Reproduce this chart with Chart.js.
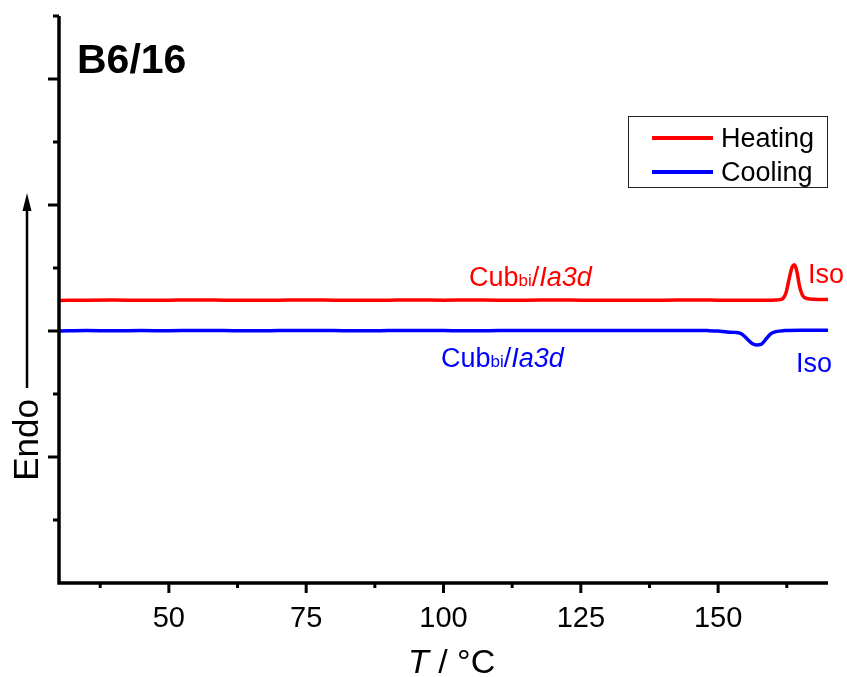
<!DOCTYPE html>
<html>
<head>
<meta charset="utf-8">
<script src="https://cdn.jsdelivr.net/npm/chart.js@4.4.1/dist/chart.umd.min.js"></script>
<style>
  html, body { margin: 0; padding: 0; background: #fff; }
  canvas { display: block; }
</style>
</head>
<body>
<canvas id="dscChart" width="847" height="677"></canvas>
<script>
// temperatures (°C) and heat flow (arbitrary units)
const heatingT = [30, 35, 40, 45, 50, 55, 60, 65, 70, 75, 80, 85, 90, 95, 100, 105, 110, 115, 120, 125, 130, 135, 140, 145, 150, 155, 158, 160, 161, 161.8, 162.4, 163, 163.5, 163.9, 164.3, 164.8, 165.4, 166.2, 167.5, 170];
const heatingY = [2.243, 2.245, 2.246, 2.244, 2.245, 2.246, 2.245, 2.244, 2.245, 2.246, 2.245, 2.244, 2.245, 2.246, 2.245, 2.246, 2.245, 2.245, 2.246, 2.245, 2.244, 2.245, 2.245, 2.246, 2.245, 2.244, 2.244, 2.245, 2.247, 2.258, 2.31, 2.43, 2.51, 2.525, 2.48, 2.36, 2.28, 2.258, 2.252, 2.25];

const coolingT = [30, 35, 40, 45, 50, 55, 60, 65, 70, 75, 80, 85, 90, 95, 100, 105, 110, 115, 120, 125, 130, 135, 140, 145, 148, 150, 151.6, 153, 154.3, 155.2, 156.2, 157, 157.8, 158.6, 159.5, 160.5, 162, 165, 170];
const coolingY = [2.0, 2.003, 2.002, 2.003, 2.002, 2.004, 2.003, 2.002, 2.003, 2.004, 2.003, 2.002, 2.003, 2.004, 2.003, 2.002, 2.003, 2.004, 2.003, 2.003, 2.004, 2.003, 2.003, 2.004, 2.003, 2.0, 1.992, 1.989, 1.977, 1.94, 1.9, 1.888, 1.893, 1.93, 1.975, 1.995, 2.003, 2.005, 2.005];

const xMajorTicks = [50, 75, 100, 125, 150];
const xMinorTicks = [37.5, 62.5, 87.5, 112.5, 137.5, 162.5];
const yMajorTicks = [1, 2, 3, 4];
const yMinorTicks = [0.5, 1.5, 2.5, 3.5, 4.5];

const FONT = '"Liberation Sans", Arial, sans-serif';

const toPoints = (xs, ys) => xs.map((t, i) => ({ x: t, y: ys[i] }));

// draws axes, ticks, titles, annotations and the legend box
const decor = {
	id: 'decor',
	afterDatasetsDraw(chart) {
		const {
			ctx,
			chartArea: { left, right, top, bottom },
			scales: { x, y },
		} = chart;
		ctx.save();
		ctx.strokeStyle = '#000';
		ctx.fillStyle = '#000';

		// axis lines
		ctx.lineWidth = 3.5;
		ctx.beginPath();
		ctx.moveTo(left, top);
		ctx.lineTo(left, bottom);
		ctx.lineTo(right, bottom);
		ctx.stroke();

		// ticks
		ctx.lineWidth = 3;
		xMajorTicks.forEach((v) => {
			const px = x.getPixelForValue(v);
			ctx.beginPath();
			ctx.moveTo(px, bottom);
			ctx.lineTo(px, bottom + 10);
			ctx.stroke();
		});
		xMinorTicks.forEach((v) => {
			const px = x.getPixelForValue(v);
			ctx.beginPath();
			ctx.moveTo(px, bottom);
			ctx.lineTo(px, bottom + 5);
			ctx.stroke();
		});
		yMajorTicks.forEach((v) => {
			const py = y.getPixelForValue(v);
			ctx.beginPath();
			ctx.moveTo(left, py);
			ctx.lineTo(left - 11, py);
			ctx.stroke();
		});
		yMinorTicks.forEach((v) => {
			const py = y.getPixelForValue(v);
			ctx.beginPath();
			ctx.moveTo(left, py);
			ctx.lineTo(left - 6, py);
			ctx.stroke();
		});

		// x tick labels
		ctx.font = '29px ' + FONT;
		ctx.textAlign = 'center';
		ctx.textBaseline = 'alphabetic';
		xMajorTicks.forEach((v) => {
			ctx.fillText(String(v), x.getPixelForValue(v), 627);
		});

		// x title: italic T
		ctx.textAlign = 'left';
		ctx.font = 'italic 34px ' + FONT;
		let tx = 408;
		ctx.fillText('T', tx, 673);
		tx += ctx.measureText('T').width;
		ctx.font = '34px ' + FONT;
		ctx.fillText(' / °C', tx, 673);

		// y title with arrow
		ctx.save();
		ctx.translate(38, 440);
		ctx.rotate(-Math.PI / 2);
		ctx.font = '35px ' + FONT;
		ctx.textAlign = 'center';
		ctx.fillText('Endo', 0, 0);
		ctx.restore();
		ctx.lineWidth = 2.5;
		ctx.beginPath();
		ctx.moveTo(27, 388);
		ctx.lineTo(27, 206);
		ctx.stroke();
		ctx.beginPath();
		ctx.moveTo(27, 193);
		ctx.lineTo(22.5, 211);
		ctx.lineTo(31.5, 211);
		ctx.closePath();
		ctx.fill();

		// sample title
		ctx.font = 'bold 41px ' + FONT;
		ctx.textAlign = 'left';
		ctx.fillText('B6/16', 77, 73);

		// phase labels
		const phaseLabel = (color, px, py) => {
			ctx.fillStyle = color;
			ctx.font = '27px ' + FONT;
			ctx.fillText('Cub', px, py);
			px += ctx.measureText('Cub').width;
			ctx.font = '17px ' + FONT;
			ctx.fillText('bi', px, py);
			px += ctx.measureText('bi').width;
			ctx.font = '27px ' + FONT;
			ctx.fillText('/', px, py);
			px += ctx.measureText('/').width;
			ctx.font = 'italic 27px ' + FONT;
			ctx.fillText('Ia3d', px, py);
		};
		phaseLabel('#ff0000', 469, 286);
		phaseLabel('#0000ff', 441, 367);
		ctx.font = '27px ' + FONT;
		ctx.fillStyle = '#ff0000';
		ctx.fillText('Iso', 808, 283);
		ctx.fillStyle = '#0000ff';
		ctx.fillText('Iso', 796, 372);

		// legend
		ctx.lineWidth = 1;
		ctx.strokeStyle = '#222';
		ctx.strokeRect(628.5, 116.5, 199, 71);
		const rows = [147, 181];
		chart.data.datasets.forEach((ds, i) => {
			const ly = rows[i] - 9;
			ctx.strokeStyle = ds.borderColor;
			ctx.lineWidth = 4;
			ctx.beginPath();
			ctx.moveTo(652, ly);
			ctx.lineTo(713, ly);
			ctx.stroke();
			ctx.fillStyle = '#000';
			ctx.font = '27px ' + FONT;
			ctx.fillText(ds.label, 721, rows[i]);
		});

		ctx.restore();
	},
};

const chartConfig = {
	type: 'line',
	data: {
		datasets: [
			{
				label: 'Heating',
				data: toPoints(heatingT, heatingY),
				borderColor: '#ff0000',
				borderWidth: 3.5,
				pointRadius: 0,
				cubicInterpolationMode: 'monotone',
			},
			{
				label: 'Cooling',
				data: toPoints(coolingT, coolingY),
				borderColor: '#0000ff',
				borderWidth: 3.5,
				pointRadius: 0,
				cubicInterpolationMode: 'monotone',
			},
		],
	},
	options: {
		responsive: false,
		animation: false,
		layout: {
			padding: { left: 59, right: 19, top: 16, bottom: 94 },
		},
		plugins: {
			legend: { display: false },
			tooltip: { enabled: false },
		},
		scales: {
			x: { type: 'linear', min: 30, max: 170, display: false },
			y: { type: 'linear', min: 0, max: 4.5, display: false },
		},
	},
	plugins: [decor],
};

const dscChart = new Chart(document.getElementById('dscChart'), chartConfig);
</script>
</body>
</html>
